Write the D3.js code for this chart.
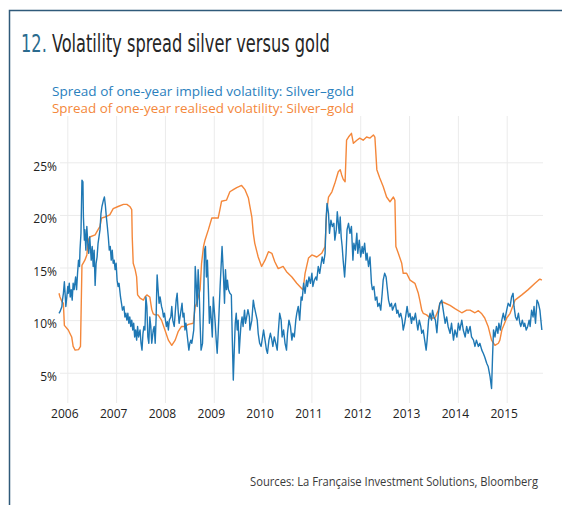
<!DOCTYPE html>
<html><head><meta charset="utf-8">
<script src="https://cdn.jsdelivr.net/npm/d3@7"></script>
<style>html,body{margin:0;padding:0;background:#fff;} svg{display:block}</style>
</head><body><svg id="c" width="562" height="505"></svg>
<script>
const titleNumber = "12.";
const titleText = "Volatility spread silver versus gold";
const legendLabels = ["Spread of one-year implied volatility: Silver\u2013gold", "Spread of one-year realised volatility: Silver\u2013gold"];
const sourceText = "Sources: La Fran\u00e7aise Investment Solutions, Bloomberg";
const yearTicks = [2006, 2007, 2008, 2009, 2010, 2011, 2012, 2013, 2014, 2015];
const yTickValues = [5, 10, 15, 20, 25];

// [decimal year, spread %]
const impliedSeries = [[2005.83,10.65],[2005.85,10.8],[2005.89,11.3],[2005.90,11.9],[2005.92,12.55],[2005.94,13.65],[2005.95,12.9],[2005.97,11.3],[2005.99,12.2],[2006.01,13.2],[2006.02,12.55],[2006.04,13.5],[2006.06,12.2],[2006.08,12.9],[2006.10,11.9],[2006.12,13.5],[2006.14,12.9],[2006.17,14.1],[2006.19,12.9],[2006.21,14.45],[2006.23,15.7],[2006.25,15.1],[2006.26,16.65],[2006.28,18.25],[2006.30,23.3],[2006.32,23.15],[2006.33,19.8],[2006.35,17.6],[2006.36,18.6],[2006.38,16.65],[2006.40,18.9],[2006.42,17.3],[2006.44,16.35],[2006.46,17.9],[2006.49,15.7],[2006.51,17.0],[2006.53,15.1],[2006.55,16.65],[2006.57,13.3],[2006.59,15.4],[2006.61,16.0],[2006.63,17.3],[2006.67,18.6],[2006.69,20.15],[2006.71,20.8],[2006.74,21.4],[2006.76,21.7],[2006.78,20.9],[2006.80,19.8],[2006.82,18.9],[2006.84,17.9],[2006.86,16.65],[2006.88,17.0],[2006.90,15.7],[2006.92,16.65],[2006.94,15.4],[2006.96,15.7],[2006.98,14.8],[2007.00,15.4],[2007.02,13.8],[2007.04,13.2],[2007.06,13.5],[2007.09,12.2],[2007.11,11.6],[2007.13,10.95],[2007.16,11.3],[2007.18,10.3],[2007.20,10.65],[2007.22,10.0],[2007.24,10.65],[2007.26,9.7],[2007.28,10.3],[2007.30,9.4],[2007.32,10.0],[2007.34,9.06],[2007.36,9.7],[2007.38,8.4],[2007.40,9.06],[2007.42,8.1],[2007.44,9.4],[2007.46,8.4],[2007.49,9.06],[2007.51,7.8],[2007.53,7.15],[2007.55,8.75],[2007.57,9.4],[2007.59,9.06],[2007.61,12.2],[2007.63,11.3],[2007.65,8.4],[2007.67,7.8],[2007.69,10.3],[2007.71,9.4],[2007.73,7.8],[2007.76,9.06],[2007.78,9.4],[2007.80,7.8],[2007.82,10.3],[2007.83,12.55],[2007.84,14.3],[2007.86,12.9],[2007.88,11.6],[2007.90,12.2],[2007.93,11.3],[2007.95,10.95],[2007.97,10.3],[2007.99,10.65],[2008.01,10.0],[2008.03,9.4],[2008.05,9.85],[2008.07,9.06],[2008.09,10.0],[2008.12,10.3],[2008.14,11.3],[2008.16,10.0],[2008.19,9.4],[2008.21,10.65],[2008.23,11.9],[2008.25,12.55],[2008.27,10.95],[2008.29,9.7],[2008.32,10.65],[2008.35,11.6],[2008.37,10.3],[2008.39,10.65],[2008.41,9.06],[2008.43,9.7],[2008.46,8.4],[2008.49,7.15],[2008.51,7.8],[2008.53,8.1],[2008.55,7.8],[2008.57,8.4],[2008.59,9.06],[2008.61,11.6],[2008.62,15.1],[2008.64,13.5],[2008.66,11.3],[2008.68,14.8],[2008.70,12.9],[2008.72,9.7],[2008.74,7.15],[2008.77,7.8],[2008.79,10.95],[2008.81,16.65],[2008.83,17.0],[2008.85,14.1],[2008.87,15.7],[2008.89,12.9],[2008.91,9.7],[2008.93,11.3],[2008.95,10.0],[2008.97,8.4],[2008.99,12.2],[2009.01,10.95],[2009.03,9.7],[2009.05,8.1],[2009.07,6.85],[2009.09,8.75],[2009.11,10.95],[2009.13,13.2],[2009.15,15.1],[2009.17,17.0],[2009.20,14.1],[2009.22,11.6],[2009.24,14.8],[2009.26,12.9],[2009.28,13.8],[2009.30,12.9],[2009.33,12.55],[2009.36,12.4],[2009.38,8.1],[2009.40,4.3],[2009.42,7.15],[2009.44,9.7],[2009.46,10.65],[2009.48,9.06],[2009.50,10.0],[2009.52,6.85],[2009.54,8.4],[2009.56,9.7],[2009.58,10.3],[2009.60,9.4],[2009.63,10.95],[2009.65,9.7],[2009.67,10.2],[2009.70,11.0],[2009.73,10.3],[2009.74,9.06],[2009.78,10.0],[2009.81,11.9],[2009.83,11.3],[2009.86,10.65],[2009.89,10.0],[2009.91,8.75],[2009.94,7.8],[2009.97,7.5],[2009.99,8.1],[2010.02,9.06],[2010.05,8.1],[2010.08,7.15],[2010.10,6.85],[2010.13,8.1],[2010.16,8.75],[2010.19,8.1],[2010.21,7.5],[2010.24,8.4],[2010.27,7.8],[2010.30,7.15],[2010.32,8.75],[2010.35,10.65],[2010.38,10.0],[2010.40,8.4],[2010.43,9.06],[2010.46,7.8],[2010.49,7.15],[2010.51,8.75],[2010.54,10.0],[2010.57,9.4],[2010.60,8.1],[2010.62,8.75],[2010.65,8.4],[2010.68,10.0],[2010.70,10.65],[2010.73,11.3],[2010.76,10.0],[2010.79,12.2],[2010.81,11.9],[2010.84,13.5],[2010.87,12.55],[2010.90,13.8],[2010.92,13.2],[2010.95,14.1],[2010.98,13.5],[2011.01,14.45],[2011.03,13.2],[2011.06,13.8],[2011.09,14.1],[2011.11,13.8],[2011.14,15.1],[2011.17,14.45],[2011.20,15.4],[2011.22,16.0],[2011.25,15.4],[2011.28,16.35],[2011.30,19.5],[2011.32,21.1],[2011.35,20.15],[2011.37,18.25],[2011.40,19.5],[2011.43,18.9],[2011.46,19.2],[2011.48,17.6],[2011.51,18.6],[2011.53,20.3],[2011.57,18.25],[2011.59,19.8],[2011.61,17.9],[2011.63,17.0],[2011.65,15.7],[2011.68,14.1],[2011.71,16.35],[2011.73,18.6],[2011.76,19.2],[2011.79,18.25],[2011.82,18.9],[2011.85,15.7],[2011.87,17.3],[2011.90,16.65],[2011.93,18.25],[2011.95,16.35],[2011.98,17.6],[2012.01,16.0],[2012.04,17.0],[2012.06,16.35],[2012.09,17.3],[2012.12,15.7],[2012.14,16.35],[2012.17,15.1],[2012.20,16.0],[2012.23,13.5],[2012.25,12.9],[2012.28,13.2],[2012.31,11.9],[2012.34,12.2],[2012.36,11.3],[2012.39,11.6],[2012.42,10.95],[2012.45,12.55],[2012.47,13.8],[2012.50,14.45],[2012.53,14.1],[2012.55,13.2],[2012.58,11.9],[2012.61,11.3],[2012.64,11.6],[2012.66,10.95],[2012.69,11.3],[2012.72,11.6],[2012.75,10.65],[2012.77,10.95],[2012.80,10.3],[2012.83,10.65],[2012.86,10.0],[2012.88,9.06],[2012.91,9.7],[2012.94,10.65],[2012.96,11.3],[2012.99,10.3],[2013.02,10.65],[2013.05,9.7],[2013.07,10.3],[2013.10,10.0],[2013.13,10.65],[2013.16,9.7],[2013.18,9.06],[2013.21,10.0],[2013.24,9.4],[2013.26,8.75],[2013.29,9.06],[2013.32,8.1],[2013.35,7.15],[2013.37,8.1],[2013.40,10.0],[2013.43,10.65],[2013.46,10.0],[2013.48,10.95],[2013.51,10.3],[2013.54,10.0],[2013.57,8.8],[2013.60,10.65],[2013.63,11.6],[2013.67,11.9],[2013.70,10.95],[2013.74,9.7],[2013.77,10.3],[2013.80,9.4],[2013.84,8.75],[2013.87,9.7],[2013.91,8.1],[2013.94,9.06],[2013.98,8.4],[2014.01,9.7],[2014.04,9.06],[2014.08,10.0],[2014.11,9.06],[2014.15,8.4],[2014.18,9.4],[2014.21,8.75],[2014.25,9.4],[2014.28,8.4],[2014.32,8.1],[2014.35,7.5],[2014.38,8.1],[2014.42,7.5],[2014.45,7.8],[2014.49,7.15],[2014.52,6.85],[2014.55,6.5],[2014.59,5.9],[2014.62,5.6],[2014.66,4.6],[2014.69,3.5],[2014.71,6.5],[2014.73,9.06],[2014.76,8.4],[2014.79,9.4],[2014.82,8.75],[2014.84,9.7],[2014.87,9.06],[2014.90,10.0],[2014.93,10.65],[2014.96,10.0],[2015.00,10.95],[2015.03,11.6],[2015.07,11.3],[2015.10,12.2],[2015.13,12.55],[2015.15,11.3],[2015.18,10.3],[2015.21,10.0],[2015.24,10.65],[2015.27,9.7],[2015.29,9.4],[2015.32,10.0],[2015.35,9.4],[2015.37,9.7],[2015.40,9.06],[2015.43,9.4],[2015.46,10.0],[2015.48,9.4],[2015.51,10.95],[2015.54,10.3],[2015.56,11.3],[2015.59,9.7],[2015.62,11.9],[2015.65,11.6],[2015.68,10.95],[2015.70,10.0],[2015.72,9.06]];

const realisedSeries = [[2005.83,12.55],[2005.85,12.2],[2005.89,11.75],[2005.92,11.6],[2005.94,9.5],[2006.02,9.06],[2006.09,8.4],[2006.12,7.5],[2006.16,7.15],[2006.23,7.2],[2006.27,7.5],[2006.30,15.2],[2006.36,15.7],[2006.40,16.2],[2006.43,17.6],[2006.46,17.9],[2006.57,18.1],[2006.63,18.6],[2006.67,18.9],[2006.70,19.7],[2006.77,19.8],[2006.87,20.0],[2006.94,20.6],[2007.04,20.8],[2007.15,21.0],[2007.22,21.0],[2007.28,20.8],[2007.32,20.5],[2007.33,17.9],[2007.35,15.4],[2007.39,14.8],[2007.42,14.1],[2007.44,12.4],[2007.49,12.1],[2007.56,11.9],[2007.59,12.2],[2007.63,12.4],[2007.69,12.2],[2007.73,11.0],[2007.76,10.6],[2007.80,10.5],[2007.86,10.5],[2007.93,10.0],[2008.00,9.06],[2008.07,8.1],[2008.14,7.6],[2008.21,8.1],[2008.27,8.9],[2008.34,9.4],[2008.41,9.4],[2008.48,9.6],[2008.58,9.7],[2008.62,11.3],[2008.65,11.6],[2008.72,12.9],[2008.75,15.4],[2008.79,17.0],[2008.82,17.6],[2008.89,18.6],[2008.96,19.7],[2009.03,19.7],[2009.09,19.7],[2009.13,20.6],[2009.16,21.3],[2009.26,21.4],[2009.33,22.2],[2009.40,22.4],[2009.47,22.6],[2009.57,22.8],[2009.64,22.4],[2009.71,21.6],[2009.74,20.8],[2009.78,19.8],[2009.81,18.25],[2009.84,17.3],[2009.91,16.0],[2009.98,15.1],[2010.05,15.7],[2010.12,16.5],[2010.19,16.35],[2010.25,15.55],[2010.32,14.9],[2010.42,15.1],[2010.49,14.6],[2010.60,14.1],[2010.70,13.5],[2010.80,13.0],[2010.83,12.9],[2010.87,14.45],[2010.94,15.9],[2011.01,16.2],[2011.11,16.0],[2011.21,16.35],[2011.28,17.0],[2011.31,20.15],[2011.35,21.7],[2011.42,22.2],[2011.48,23.0],[2011.55,24.1],[2011.59,24.3],[2011.62,23.8],[2011.65,23.4],[2011.69,23.15],[2011.72,27.1],[2011.76,27.4],[2011.82,27.75],[2011.86,26.8],[2011.93,27.1],[2011.99,27.3],[2012.06,27.1],[2012.13,27.4],[2012.20,27.3],[2012.27,27.6],[2012.30,27.4],[2012.34,24.3],[2012.40,23.5],[2012.47,22.7],[2012.54,21.7],[2012.61,21.25],[2012.68,21.7],[2012.71,21.4],[2012.73,17.0],[2012.78,16.35],[2012.85,15.4],[2012.88,14.45],[2012.95,14.45],[2013.02,13.8],[2013.12,13.5],[2013.19,12.55],[2013.22,11.9],[2013.26,10.95],[2013.29,10.65],[2013.36,10.5],[2013.43,10.2],[2013.53,10.2],[2013.60,10.95],[2013.63,11.6],[2013.70,11.7],[2013.84,11.4],[2013.94,11.1],[2014.08,10.7],[2014.18,10.95],[2014.25,10.95],[2014.35,10.7],[2014.42,10.9],[2014.49,10.6],[2014.55,10.2],[2014.62,9.4],[2014.69,8.1],[2014.76,7.6],[2014.83,7.8],[2014.86,8.1],[2014.90,9.06],[2015.00,10.2],[2015.07,10.65],[2015.17,11.9],[2015.31,12.4],[2015.44,12.9],[2015.58,13.5],[2015.65,13.8],[2015.68,13.9],[2015.72,13.8]];

const colors = { implied: "#1f78b4", realised: "#f4873a", frame: "#2f5a7a", titleNum: "#2b6b8e", title: "#262626", grid: "#ebebeb", text: "#222", legendBlue: "#2a80bd" };
const sansFont = "'Open Sans', 'Noto Sans', sans-serif";
const narrowFont = "'Liberation Sans Narrow', 'DejaVu Sans Condensed', sans-serif";

const svg = d3.select("#c");

// frame
svg.append("path").attr("d", "M9.5,505 L9.5,10.5 L562,10.5")
  .attr("fill", "none").attr("stroke", colors.frame).attr("stroke-width", 1.5);

// title: one text, two coloured parts, horizontally scaled to the target width
const titleG = svg.append("g");
const title = titleG.append("text").attr("x", 0).attr("y", 0)
  .attr("font-family", narrowFont).attr("font-size", 24);
title.append("tspan").attr("fill", colors.titleNum).text(titleNumber);
title.append("tspan").attr("fill", colors.title).text("\u00a0" + titleText);
const tw = title.node().getComputedTextLength();
titleG.attr("transform", `translate(21,52) scale(${309 / tw},1)`);

// legend
const legendColors = [colors.legendBlue, colors.realised];
legendLabels.forEach((t, i) => {
  svg.append("text").attr("x", 52).attr("y", 95.5 + i * 17).text(t)
    .attr("font-family", sansFont).attr("font-size", 13).attr("fill", legendColors[i])
    .attr("textLength", 302).attr("lengthAdjust", "spacingAndGlyphs");
});

const x = d3.scaleLinear().domain([2006, 2015]).range([67.3, 506.7]);
const y = d3.scaleLinear().domain([2.2, 29.4]).range([402.2, 116]);
const plotLeft = 60, plotRight = 543, plotTop = 116, plotBottom = 403;

// y axis + horizontal grid
const yAxis = svg.append("g").attr("transform", `translate(${plotLeft},0)`)
  .call(d3.axisLeft(y).tickValues(yTickValues).tickSize(-(plotRight - plotLeft)).tickPadding(3).tickFormat(d => d + "%"));
yAxis.select(".domain").remove();
yAxis.selectAll("line").attr("stroke", colors.grid).attr("stroke-width", 1);
yAxis.selectAll("text").attr("font-family", sansFont).attr("font-size", 12).attr("fill", colors.text)
  .attr("y", 4);

// x axis + vertical grid
const xAxis = svg.append("g").attr("transform", `translate(0,${plotBottom})`)
  .call(d3.axisBottom(x).tickValues(yearTicks).tickSize(-(plotBottom - plotTop)).tickFormat(d3.format("d")));
xAxis.select(".domain").remove();
xAxis.selectAll("line").attr("stroke", colors.grid).attr("stroke-width", 1);
xAxis.selectAll("text").attr("font-family", sansFont).attr("font-size", 12).attr("fill", colors.text)
  .attr("y", 6).attr("dx", -3);

// lines
const line = d3.line().x(d => x(d[0])).y(d => y(d[1]));
svg.append("path").datum(realisedSeries).attr("d", line)
  .attr("fill", "none").attr("stroke", colors.realised).attr("stroke-width", 1.4).attr("stroke-linejoin", "round");
svg.append("path").datum(impliedSeries).attr("d", line)
  .attr("fill", "none").attr("stroke", colors.implied).attr("stroke-width", 1.4).attr("stroke-linejoin", "round");

// source
svg.append("text").attr("x", 538).attr("y", 486).attr("text-anchor", "end").text(sourceText)
  .attr("font-family", sansFont).attr("font-size", 12).attr("fill", "#3a3a3a")
  .attr("textLength", 288).attr("lengthAdjust", "spacingAndGlyphs");
</script></body></html>
